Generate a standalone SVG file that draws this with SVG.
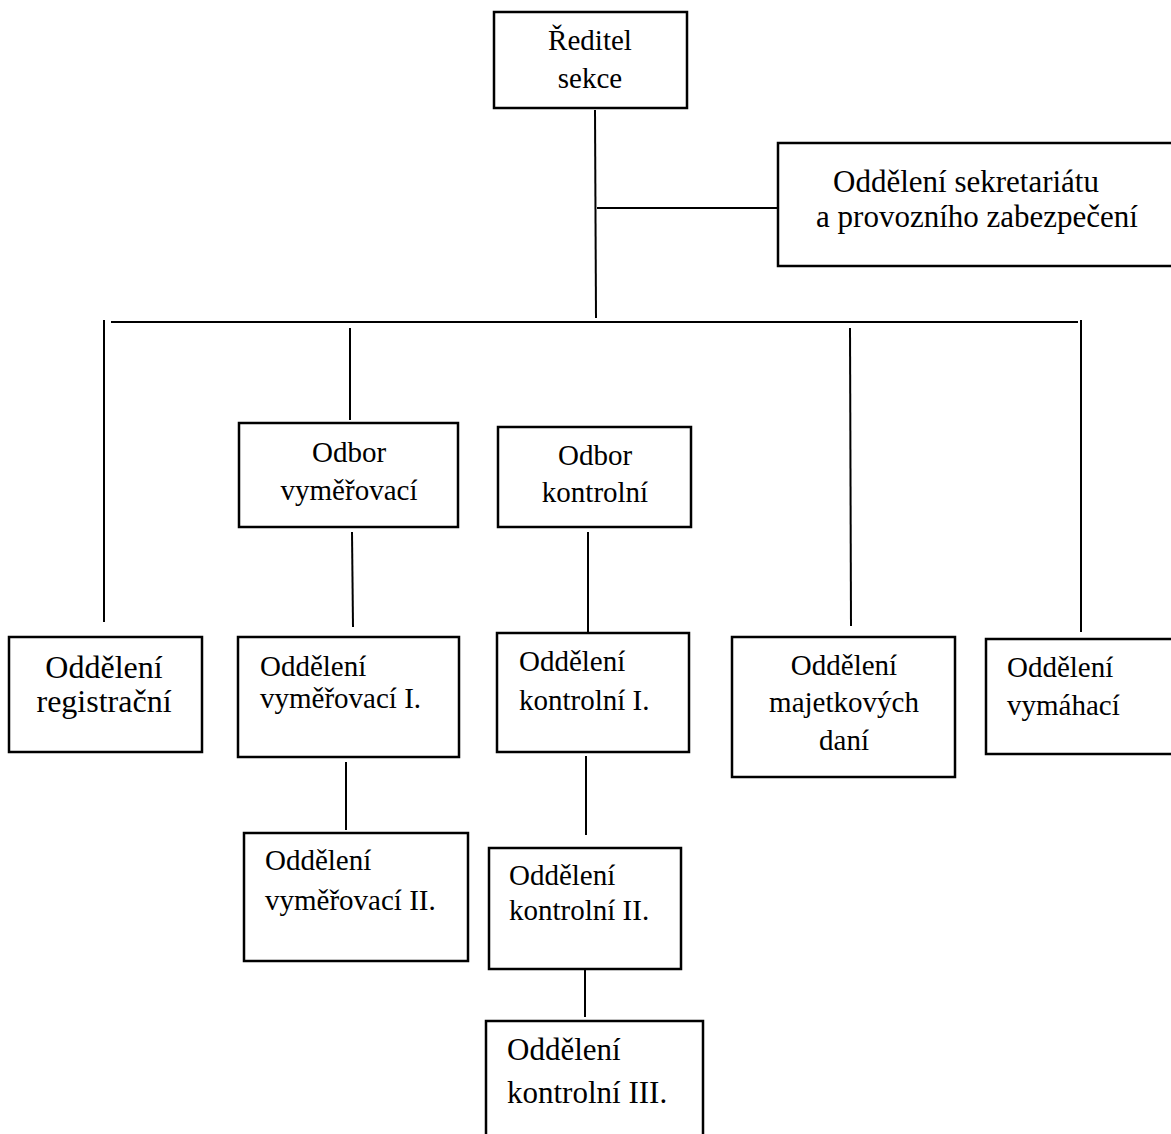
<svg xmlns="http://www.w3.org/2000/svg" width="1171" height="1134" viewBox="0 0 1171 1134">
<style>
.box{fill:#fff;stroke:#000;stroke-width:2.5}
.ln{stroke:#000;stroke-width:2;fill:none}
text{font-family:"Liberation Serif","Times New Roman",serif;fill:#000}
.c{text-anchor:middle}
</style>
<rect width="1171" height="1134" fill="#fff"/>
<g id="connectors">
<line class="ln" x1="595" y1="110" x2="596" y2="318"/>
<line class="ln" x1="597" y1="208" x2="777" y2="208"/>
<line class="ln" x1="111" y1="322" x2="1078" y2="322"/>
<line class="ln" x1="104" y1="320" x2="104" y2="622"/>
<line class="ln" x1="350" y1="328" x2="350" y2="420"/>
<line class="ln" x1="850" y1="328" x2="851" y2="626"/>
<line class="ln" x1="1081" y1="320" x2="1081" y2="632"/>
<line class="ln" x1="352" y1="532" x2="353" y2="627"/>
<line class="ln" x1="588" y1="532" x2="588" y2="632"/>
<line class="ln" x1="346" y1="762" x2="346" y2="830"/>
<line class="ln" x1="586" y1="756" x2="586" y2="835"/>
<line class="ln" x1="585" y1="969" x2="585" y2="1017"/>
</g>
<g id="reditel">
<rect class="box" x="494" y="12" width="193" height="96"/>
<text class="c" x="590" y="50" font-size="29">Ředitel</text>
<text class="c" x="590" y="88" font-size="29">sekce</text>
</g>
<g id="sekretariat">
<rect class="box" x="778" y="143" width="400" height="123"/>
<text class="c" x="966" y="192" font-size="31">Oddělení sekretariátu</text>
<text class="c" x="977" y="227" font-size="31">a provozního zabezpečení</text>
</g>
<g id="registracni">
<rect class="box" x="9" y="637" width="193" height="115"/>
<text class="c" x="104" y="678" font-size="32">Oddělení</text>
<text class="c" x="104" y="712" font-size="32">registrační</text>
</g>
<g id="odbor-vymerovaci">
<rect class="box" x="239" y="423" width="219" height="104"/>
<text class="c" x="349" y="462" font-size="29">Odbor</text>
<text class="c" x="349" y="500" font-size="29">vyměřovací</text>
</g>
<g id="odbor-kontrolni">
<rect class="box" x="498" y="427" width="193" height="100"/>
<text class="c" x="595" y="465" font-size="29">Odbor</text>
<text class="c" x="595" y="502" font-size="29">kontrolní</text>
</g>
<g id="vymerovaci-1">
<rect class="box" x="238" y="637" width="221" height="120"/>
<text x="260" y="676" font-size="29">Oddělení</text>
<text x="260" y="708" font-size="29">vyměřovací I.</text>
</g>
<g id="vymerovaci-2">
<rect class="box" x="244" y="833" width="224" height="128"/>
<text x="265" y="870" font-size="29">Oddělení</text>
<text x="265" y="910" font-size="29">vyměřovací II.</text>
</g>
<g id="kontrolni-1">
<rect class="box" x="497" y="633" width="192" height="119"/>
<text x="519" y="671" font-size="29">Oddělení</text>
<text x="519" y="710" font-size="29">kontrolní I.</text>
</g>
<g id="kontrolni-2">
<rect class="box" x="489" y="848" width="192" height="121"/>
<text x="509" y="885" font-size="29">Oddělení</text>
<text x="509" y="920" font-size="29">kontrolní II.</text>
</g>
<g id="kontrolni-3">
<rect class="box" x="486" y="1021" width="217" height="125"/>
<text x="507" y="1060" font-size="31">Oddělení</text>
<text x="507" y="1103" font-size="31">kontrolní III.</text>
</g>
<g id="majetkovych">
<rect class="box" x="732" y="637" width="223" height="140"/>
<text class="c" x="844" y="675" font-size="29">Oddělení</text>
<text class="c" x="844" y="712" font-size="29">majetkových</text>
<text class="c" x="844" y="750" font-size="29">daní</text>
</g>
<g id="vymahaci">
<rect class="box" x="986" y="639" width="200" height="115"/>
<text x="1007" y="677" font-size="29">Oddělení</text>
<text x="1007" y="715" font-size="29">vymáhací</text>
</g>
</svg>
